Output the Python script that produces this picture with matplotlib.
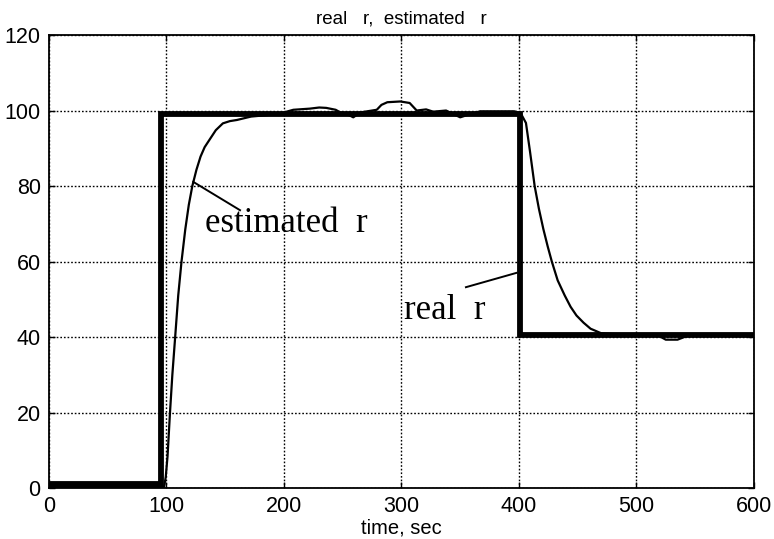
import matplotlib
matplotlib.use('Agg')
import matplotlib.pyplot as plt
import numpy as np

# reference input r (step up, then step down)
real_t = [0, 95, 95, 401, 401, 600]
real_r = [1, 1, 99, 99, 40.6, 40.6]

# estimated r read off the simulation run
est_t = [0, 98, 99.4, 100.9, 103, 105, 107.4, 110, 112.8, 116, 119, 122,
         125.5, 129, 132.5, 136.5, 142, 148, 154, 160,
         172, 186, 200, 208, 222, 230, 236, 244, 248, 254, 259, 265, 279,
         283, 288, 299, 307, 313, 321, 327, 338, 350, 356, 367, 396, 401.5,
         406, 409.5, 413.4, 417, 420.8, 424.5, 428, 433, 439, 444, 449, 455,
         461, 470, 480, 500, 518, 525, 535, 545, 560, 600]
est_r = [0.3, 0.3, 3, 8.4, 20, 30, 40, 51, 60, 68.5, 75, 80,
         84.3, 87.8, 90.3, 92.2, 94.8, 96.6, 97.2, 97.5,
         98.4, 98.8, 99.5, 100.2, 100.5, 100.8, 100.7, 100.2, 99.5, 99.0, 98.2, 99.5, 100.2,
         101.5, 102.2, 102.4, 102.0, 100.0, 100.3, 99.7, 100.0, 98.2, 98.8, 99.8, 99.8, 99.3,
         96.7, 89, 80, 74, 68.6, 64, 60, 55, 51, 48, 45.7, 43.8,
         42.2, 41.0, 40.8, 40.7, 40.5, 39.3, 39.3, 40.5, 40.6, 40.6]

plt.rcParams['font.family'] = ['Liberation Sans', 'DejaVu Sans']

fig = plt.figure(figsize=(7.74, 5.39), dpi=100)
ax = fig.add_axes([0.0633, 0.0946, 0.9107, 0.8404])

ax.plot(real_t, real_r, color='black', linewidth=4.2, solid_joinstyle='miter')
ax.plot(est_t, est_r, color='black', linewidth=1.6, solid_joinstyle='round')

ax.set_xlim(0, 600)
ax.set_ylim(0, 120)
ax.set_xticks(np.arange(0, 601, 100))
ax.set_yticks(np.arange(0, 121, 20))
ax.tick_params(direction='in', length=4, width=1, labelsize=15.5,
               top=True, right=True, pad=6)
ax.grid(True, color='black', linestyle=(0, (1.2, 1.4)), linewidth=1.0)
for s in ax.spines.values():
    s.set_linewidth(1.3)

ax.set_title('real   r,  estimated   r', fontsize=13.5, pad=8)
ax.set_xlabel('time, sec', fontsize=14.5, labelpad=1)

serif = ['Liberation Serif', 'DejaVu Serif']
ax.plot([122.8, 162.6], [81.1, 73.6], color='black', linewidth=1.4)
ax.text(132.8, 67.9, 'estimated  r', fontsize=25, family=serif)
ax.plot([354.9, 398], [53.2, 57.0], color='black', linewidth=1.4)
ax.text(302, 44.7, 'real  r', fontsize=25, family=serif)

fig.savefig('out.png', dpi=100)
